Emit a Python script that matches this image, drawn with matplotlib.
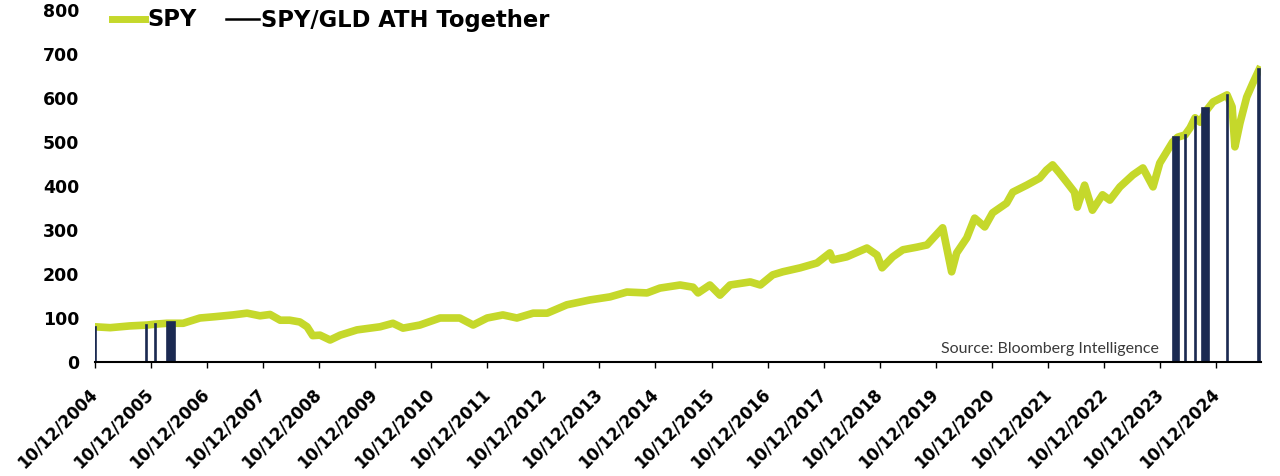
import matplotlib.pyplot as plt
from matplotlib.lines import Line2D

# SPY (adjusted), x in decimal years
spy_year = [2004.79, 2005.06, 2005.41, 2005.72, 2005.86, 2006.07, 2006.36, 2006.66, 2006.93,
            2007.25, 2007.50, 2007.73, 2007.91, 2008.09, 2008.26, 2008.44, 2008.57, 2008.67,
            2008.80, 2008.98, 2009.16, 2009.46, 2009.87, 2010.10, 2010.28, 2010.58, 2010.94,
            2011.29, 2011.53, 2011.78, 2012.06, 2012.31, 2012.60, 2012.85, 2013.20, 2013.61,
            2013.97, 2014.27, 2014.63, 2014.86, 2015.22, 2015.45, 2015.54, 2015.75, 2015.93,
            2016.11, 2016.47, 2016.65, 2016.87, 2017.05, 2017.36, 2017.66, 2017.89, 2017.94,
            2018.19, 2018.55, 2018.73, 2018.82, 2019.01, 2019.19, 2019.44, 2019.62, 2019.90,
            2020.06, 2020.15, 2020.33, 2020.47, 2020.65, 2020.79, 2021.04, 2021.15, 2021.40,
            2021.63, 2021.75, 2021.86, 2021.98, 2022.11, 2022.25, 2022.30, 2022.43, 2022.57,
            2022.75, 2022.88, 2023.06, 2023.29, 2023.47, 2023.65, 2023.77, 2024.00, 2024.09,
            2024.22, 2024.31, 2024.40, 2024.49, 2024.61, 2024.72, 2024.97, 2025.06, 2025.11,
            2025.20, 2025.32, 2025.43, 2025.54]
spy_value = [80, 78, 82, 84, 86, 88, 88, 100, 103,
             107, 111, 105, 108, 95, 95, 91, 80, 60,
             61, 50, 61, 73, 80, 88, 77, 84, 100,
             100, 84, 100, 107, 100, 111, 111, 130, 141,
             148, 159, 157, 168, 175, 170, 157, 175, 152,
             175, 182, 175, 198, 205, 214, 225, 248, 232,
             239, 259, 243, 214, 239, 255, 261, 266, 305,
             205, 248, 282, 327, 307, 339, 361, 386, 402,
             418, 436, 448, 430, 409, 386, 352, 402, 345,
             380, 368, 398, 425, 441, 398, 452, 500, 511,
             516, 532, 555, 545, 573, 591, 607, 580, 489,
             543, 602, 634, 664]

# periods when SPY and GLD hit all-time highs together (start, end, SPY level)
ath_start = [2004.78, 2005.70, 2005.85, 2006.07, 2024.00, 2024.22, 2024.39, 2024.53, 2024.97, 2025.53]
ath_end = [2004.80, 2005.72, 2005.87, 2006.21, 2024.11, 2024.24, 2024.41, 2024.65, 2024.99, 2025.55]
ath_value = [80, 85, 86, 92, 511, 516, 557, 578, 607, 665]

tick_years = list(range(2004, 2025))
tick_labels = ["10/12/%d" % y for y in tick_years]

green = "#C5D82B"
navy = "#1B2A52"

fig = plt.figure(figsize=(12.8, 4.76), dpi=100)
ax = fig.add_axes([94.5 / 1280, 1 - 362 / 476, (1261 - 94.5) / 1280, 352 / 476])

ax.plot(spy_year, spy_value, color=green, lw=5.5, solid_joinstyle="round", zorder=2)
widths = [e - s for s, e in zip(ath_start, ath_end)]
ax.bar(ath_start, ath_value, width=widths, align="edge", color=navy,
       edgecolor=navy, linewidth=1.2, zorder=3)

ax.set_xlim(2004.78, 2025.575)
ax.set_ylim(0, 800)
ax.set_yticks(range(0, 801, 100))
ax.set_yticklabels([str(v) for v in range(0, 801, 100)], fontsize=12.5, fontweight="bold")
ax.set_xticks([y + 0.78 for y in tick_years])
ax.set_xticklabels(tick_labels, rotation=45, ha="right", va="center",
                   rotation_mode="anchor", fontsize=12, fontweight="bold")

for s in ["top", "right", "left"]:
    ax.spines[s].set_visible(False)
ax.spines["bottom"].set_linewidth(1.5)
ax.spines["bottom"].set_zorder(4)
ax.tick_params(axis="y", length=0, pad=11)
ax.tick_params(axis="x", direction="out", length=4, width=1, pad=17)

handles = [Line2D([], [], color=green, lw=5),
           Line2D([], [], color="black", lw=1.8)]
fig.legend(handles, ["SPY", "SPY/GLD ATH Together"], loc="center left",
           bbox_to_anchor=(112 / 1280, 1 - 20 / 476), ncol=2, frameon=False,
           prop={"weight": "bold", "size": 16.3}, handlelength=1.45,
           handletextpad=0.1, columnspacing=1.3, borderpad=0, borderaxespad=0)

fig.text(1159 / 1280, 1 - 349 / 476, "Source: Bloomberg Intelligence", ha="right",
         va="center", fontsize=11.5, family="Lato", color="#3a3a3a")

fig.savefig("out.png", dpi=100)
